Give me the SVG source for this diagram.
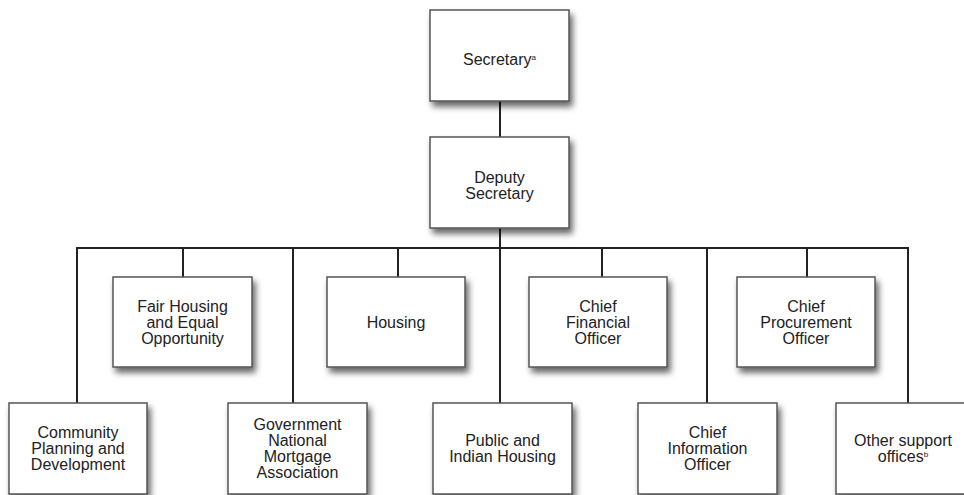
<svg xmlns="http://www.w3.org/2000/svg" width="964" height="495" viewBox="0 0 964 495">
<defs>
<filter id="sh" x="-10%" y="-10%" width="130%" height="135%">
<feDropShadow dx="3" dy="5" stdDeviation="3" flood-color="#000" flood-opacity="0.6"/>
</filter>
<style>
.box{fill:#fff;stroke:#555;stroke-width:1.5;filter:url(#sh)}
.t{font-family:"Liberation Sans",Arial,sans-serif;font-size:16px;fill:#222;text-anchor:middle}
.sup{font-size:8px}
.ln{stroke:#222;stroke-width:2;fill:none}
</style>
</defs>
<rect width="964" height="495" fill="#fff"/>
<g id="connectors">
<line class="ln" x1="500" y1="101" x2="500" y2="137"/>
<line class="ln" x1="500" y1="228" x2="500" y2="403"/>
<line class="ln" x1="76" y1="248" x2="909" y2="248"/>
<line class="ln" x1="77" y1="248" x2="77" y2="403"/>
<line class="ln" x1="183" y1="248" x2="183" y2="277"/>
<line class="ln" x1="293" y1="248" x2="293" y2="403"/>
<line class="ln" x1="398" y1="248" x2="398" y2="277"/>
<line class="ln" x1="602" y1="248" x2="602" y2="277"/>
<line class="ln" x1="707" y1="248" x2="707" y2="403"/>
<line class="ln" x1="807" y1="248" x2="807" y2="277"/>
<line class="ln" x1="908" y1="248" x2="908" y2="403"/>
</g>
<g id="secretary">
<rect class="box" x="430" y="10" width="139" height="91"/>
<text class="t" x="499.5" y="65">Secretary<tspan class="sup" dy="-5">a</tspan></text>
</g>
<g id="deputy">
<rect class="box" x="430" y="137" width="139" height="91"/>
<text class="t" x="499.5" y="183">Deputy</text>
<text class="t" x="499.5" y="199">Secretary</text>
</g>
<g id="fairhousing">
<rect class="box" x="113" y="277" width="139" height="90"/>
<text class="t" x="182.5" y="311.5">Fair Housing</text>
<text class="t" x="182.5" y="327.5">and Equal</text>
<text class="t" x="182.5" y="343.5">Opportunity</text>
</g>
<g id="housing">
<rect class="box" x="327" y="277" width="138" height="90"/>
<text class="t" x="396" y="327.5">Housing</text>
</g>
<g id="cfo">
<rect class="box" x="529" y="277" width="138" height="90"/>
<text class="t" x="598" y="311.5">Chief</text>
<text class="t" x="598" y="327.5">Financial</text>
<text class="t" x="598" y="343.5">Officer</text>
</g>
<g id="cpo">
<rect class="box" x="737" y="277" width="138" height="90"/>
<text class="t" x="806" y="311.5">Chief</text>
<text class="t" x="806" y="327.5">Procurement</text>
<text class="t" x="806" y="343.5">Officer</text>
</g>
<g id="community">
<rect class="box" x="9" y="403" width="138" height="91"/>
<text class="t" x="78" y="438">Community</text>
<text class="t" x="78" y="454">Planning and</text>
<text class="t" x="78" y="470">Development</text>
</g>
<g id="gnma">
<rect class="box" x="228" y="403" width="139" height="91"/>
<text class="t" x="297.5" y="430">Government</text>
<text class="t" x="297.5" y="446">National</text>
<text class="t" x="297.5" y="462">Mortgage</text>
<text class="t" x="297.5" y="478">Association</text>
</g>
<g id="public">
<rect class="box" x="433" y="403" width="139" height="91"/>
<text class="t" x="502.5" y="445.5">Public and</text>
<text class="t" x="502.5" y="461.5">Indian Housing</text>
</g>
<g id="cio">
<rect class="box" x="638" y="403" width="139" height="91"/>
<text class="t" x="707.5" y="438">Chief</text>
<text class="t" x="707.5" y="454">Information</text>
<text class="t" x="707.5" y="470">Officer</text>
</g>
<g id="other">
<rect class="box" x="836" y="403" width="139" height="91"/>
<text class="t" x="903" y="445.5">Other support</text>
<text class="t" x="903" y="461.5">offices<tspan class="sup" dy="-5">b</tspan></text>
</g>
</svg>
